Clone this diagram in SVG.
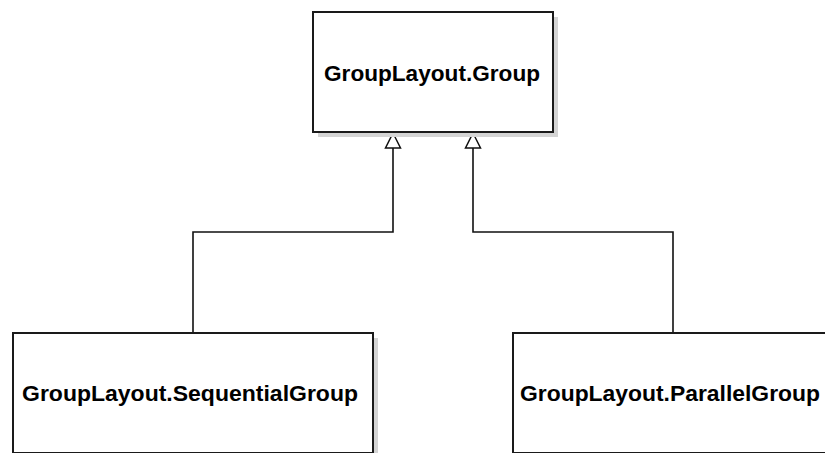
<svg xmlns="http://www.w3.org/2000/svg" width="825" height="453" viewBox="0 0 825 453">
  <style>
    .shadow { fill: #d4d4d4; }
    .box { fill: #ffffff; stroke: #1a1a1a; stroke-width: 2; }
    .label { font-family: "Liberation Sans", Arial, sans-serif; font-weight: bold; font-size: 22px; fill: #000000; text-anchor: middle; }
    .edge { fill: none; stroke: #111111; stroke-width: 1.6; }
    .head { fill: #ffffff; stroke: #111111; stroke-width: 1.5; }
  </style>
  <rect width="825" height="453" fill="#ffffff"/>

  <g id="connectors">
    <path class="edge" d="M193,333 L193,232 L393,232 L393,148"/>
    <path class="edge" d="M673,333 L673,232 L473,232 L473,148"/>
    <!-- hollow generalization triangles at the parent box -->
    <path class="head" d="M393,133 L400.5,148 L385.5,148 Z"/>
    <path class="head" d="M473,133 L480.5,148 L465.5,148 Z"/>
  </g>

  <g id="group">
    <rect class="shadow" x="318" y="17" width="240" height="120"/>
    <rect class="box" x="313" y="12" width="240" height="120"/>
    <text class="label" x="432" y="81" textLength="216" lengthAdjust="spacingAndGlyphs">GroupLayout.Group</text>
  </g>

  <g id="sequentialGroup">
    <rect class="shadow" x="18" y="338" width="360" height="120"/>
    <rect class="box" x="13" y="333" width="360" height="120"/>
    <text class="label" x="190" y="401" textLength="336" lengthAdjust="spacingAndGlyphs">GroupLayout.SequentialGroup</text>
  </g>

  <g id="parallelGroup">
    <rect class="shadow" x="518" y="338" width="320" height="120"/>
    <rect class="box" x="513" y="333" width="320" height="120"/>
    <text class="label" x="670" y="401" textLength="300" lengthAdjust="spacingAndGlyphs">GroupLayout.ParallelGroup</text>
  </g>
</svg>
